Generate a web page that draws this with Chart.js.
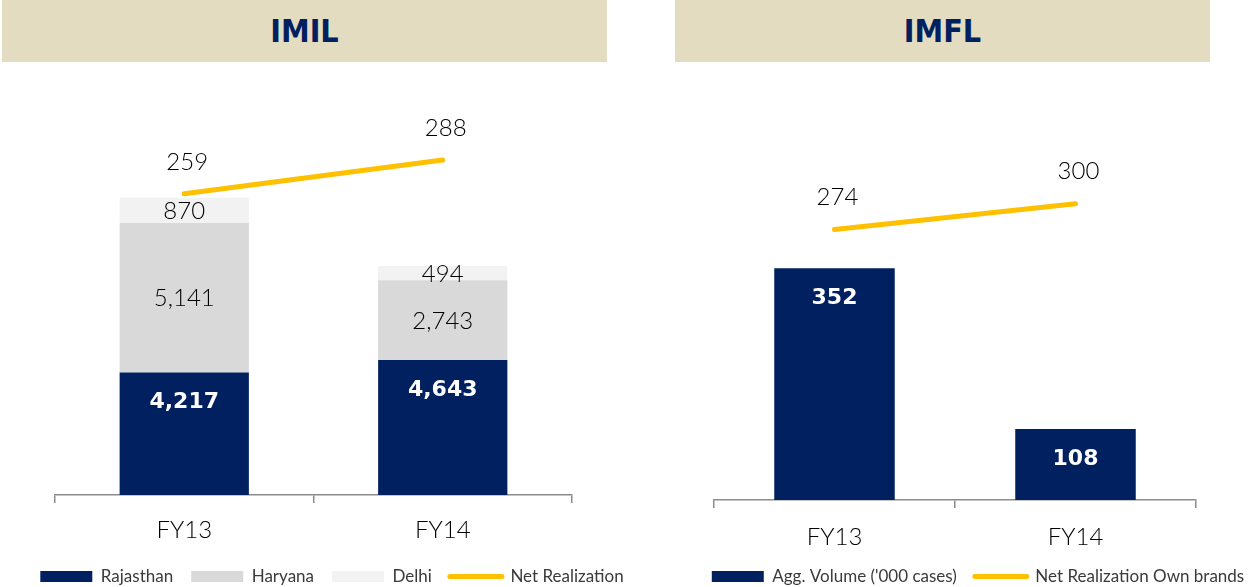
<!DOCTYPE html>
<html>
<head>
<meta charset="utf-8">
<script src="https://cdn.jsdelivr.net/npm/chart.js@4"></script>
<style>
  html, body { margin: 0; padding: 0; background: #fff; overflow: hidden; }
  body { width: 1249px; height: 587px; position: relative; }
  .head {
    position: absolute; top: 0; height: 62px; background: #E4DCC1;
    color: #002060; font: bold 32px "Liberation Sans Narrow", "DejaVu Sans Condensed", sans-serif;
    display: flex; align-items: center; justify-content: center;
  }
  .box { position: absolute; top: 0; height: 600px; }
</style>
</head>
<body>
<div class="head" style="left:2px;width:605px;">IMIL</div>
<div class="head" style="left:675px;width:535px;">IMFL</div>
<div class="box" style="left:0;width:664px;"><canvas id="imil"></canvas></div>
<div class="box" style="left:680px;width:596px;"><canvas id="imfl"></canvas></div>
<script>
const categories = ['FY13', 'FY14'];

// IMIL
const imilRajasthan = [4217, 4643];
const imilHaryana = [5141, 2743];
const imilDelhi = [870, 494];
const imilNetRealization = [259, 288];

// IMFL
const imflVolume = [352, 108];
const imflNetRealization = [274, 300];

const NAVY = '#002060';
const YELLOW = '#FFC000';
const TEXT_FONT = 'Lato, "Open Sans", sans-serif';

// draws the value labels the way the slide does (inside end / centre / above line)
const valueLabels = {
  id: 'valueLabels',
  afterDatasetsDraw(chart) {
    const ctx = chart.ctx;
    chart.data.datasets.forEach((ds, i) => {
      const meta = chart.getDatasetMeta(i);
      const lab = ds.valueLabel;
      if (!lab || meta.hidden) return;
      meta.data.forEach((el, j) => {
        const p = el.getProps(['x', 'y', 'base'], true);
        let y;
        if (lab.pos === 'end') y = p.y + 30;
        else if (lab.pos === 'center') y = (p.y + p.base) / 2 + 1;
        else y = p.y - 32;
        ctx.save();
        ctx.font = lab.font;
        ctx.fillStyle = lab.color;
        ctx.textAlign = 'center';
        ctx.textBaseline = 'middle';
        ctx.fillText(ds.data[j].toLocaleString('en-US'), p.x + (lab.dx || 0), y);
        ctx.restore();
      });
    });
  }
};

const boldWhite = { pos: 'end', color: '#fff', font: 'bold 22px "DejaVu Sans", sans-serif' };
const plainCenter = { pos: 'center', color: '#000', font: '300 24px ' + TEXT_FONT };
const aboveLine = { pos: 'above', color: '#000', font: '300 24px ' + TEXT_FONT, dx: 3 };

function legendOpts() {
  return {
    position: 'bottom',
    labels: {
      usePointStyle: true,
      pointStyleWidth: 52,
      boxHeight: 11,
      padding: 18,
      color: '#3a3a3a',
      font: { family: TEXT_FONT, size: 17 },
      generateLabels(chart) {
        const items = Chart.defaults.plugins.legend.labels.generateLabels(chart);
        items.forEach(it => {
          const ds = chart.data.datasets[it.datasetIndex];
          if (ds.type === 'line') {
            it.pointStyle = 'line';
            it.lineWidth = 5;
            it.lineCap = 'round';
            it.strokeStyle = YELLOW;
          } else {
            it.pointStyle = 'rect';
            it.lineWidth = 0;
          }
        });
        return items.sort((a, b) => a.datasetIndex - b.datasetIndex);
      }
    }
  };
}

function hiddenAxis(width, extra) {
  return Object.assign({
    display: true,
    grid: { display: false },
    border: { display: false },
    ticks: { display: false },
    afterFit(s) { s.width = width; }
  }, extra);
}

function xAxis(tickPad, height) {
  return {
    stacked: true,
    offset: true,
    grid: { offset: true, drawOnChartArea: false, drawTicks: true, tickLength: 8, color: '#8c8c8c', lineWidth: 1.5 },
    border: { display: true, color: '#8c8c8c', width: 1.5 },
    ticks: { color: '#000', padding: tickPad, font: { family: TEXT_FONT, size: 24, weight: '300' } },
    afterFit(s) { s.height = height; }
  };
}

new Chart(document.getElementById('imil'), {
  type: 'bar',
  data: {
    labels: categories,
    datasets: [
      { label: 'Rajasthan', data: imilRajasthan, backgroundColor: NAVY, yAxisID: 'y', valueLabel: boldWhite },
      { label: 'Haryana', data: imilHaryana, backgroundColor: '#D9D9D9', yAxisID: 'y', valueLabel: plainCenter },
      { label: 'Delhi', data: imilDelhi, backgroundColor: '#F2F2F2', yAxisID: 'y', valueLabel: plainCenter },
      { type: 'line', label: 'Net Realization', data: imilNetRealization, yAxisID: 'y1',
        borderColor: YELLOW, backgroundColor: YELLOW, borderWidth: 5, borderCapStyle: 'round',
        pointRadius: 0, valueLabel: aboveLine }
    ]
  },
  options: {
    responsive: true,
    maintainAspectRatio: false,
    animation: false,
    categoryPercentage: 0.5,
    barPercentage: 1,
    layout: { padding: { top: 88, bottom: 5, left: 0, right: 0 } },
    plugins: { legend: legendOpts(), tooltip: { enabled: false } },
    scales: {
      x: xAxis(13, 55),
      y: hiddenAxis(55, { stacked: true, min: 0, max: 14000, position: 'left' }),
      y1: hiddenAxis(92, { min: 0, max: 350, position: 'right' })
    }
  },
  plugins: [valueLabels]
});

new Chart(document.getElementById('imfl'), {
  type: 'bar',
  data: {
    labels: categories,
    datasets: [
      { label: "Agg. Volume ('000 cases)", data: imflVolume, backgroundColor: NAVY, yAxisID: 'y', valueLabel: boldWhite },
      { type: 'line', label: 'Net Realization Own brands', data: imflNetRealization, yAxisID: 'y1',
        borderColor: YELLOW, backgroundColor: YELLOW, borderWidth: 5, borderCapStyle: 'round',
        pointRadius: 0, valueLabel: aboveLine }
    ]
  },
  options: {
    responsive: true,
    maintainAspectRatio: false,
    animation: false,
    categoryPercentage: 0.5,
    barPercentage: 1,
    layout: { padding: { top: 105, bottom: 5, left: 0, right: 0 } },
    plugins: { legend: legendOpts(), tooltip: { enabled: false } },
    scales: {
      x: xAxis(15, 50),
      y: hiddenAxis(34, { stacked: true, min: 0, max: 600, position: 'left' }),
      y1: hiddenAxis(80, { min: 0, max: 400, position: 'right' })
    }
  },
  plugins: [valueLabels]
});
</script>
</body>
</html>
